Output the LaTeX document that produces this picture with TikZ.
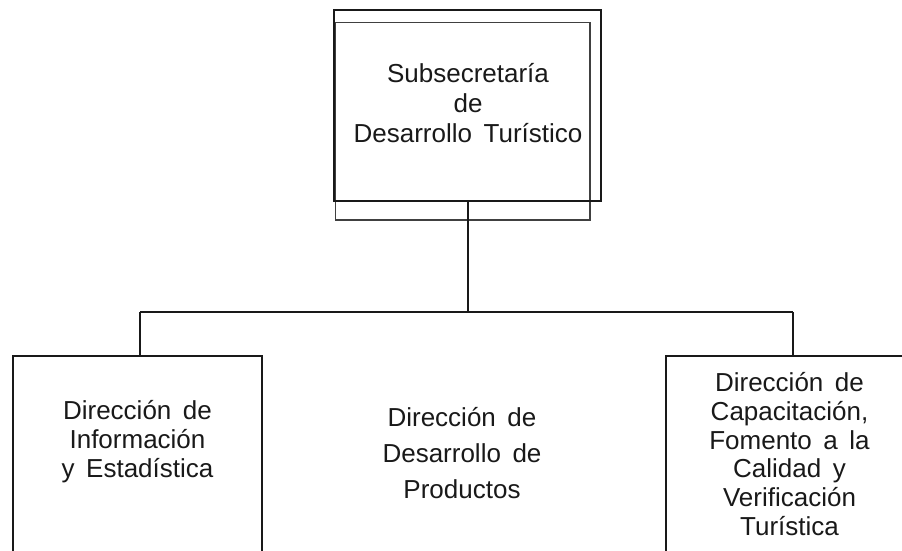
\documentclass[tikz,border=0pt]{standalone}
\usepackage{fontspec}
\setmainfont[WordSpace=1.6]{Liberation Sans}
\begin{document}
\begin{tikzpicture}[x=1pt,y=-1pt,
  conn/.style={line width=2pt, black!90},
  boxx/.style={draw=black!90, line width=2pt, rectangle, inner sep=0pt},
  shadowbox/.style={draw=black!75, line width=1.5pt, rectangle, inner sep=0pt},
  lbl/.style={align=center, inner sep=0pt, text=black!90}]
\useasboundingbox (0,0) rectangle (902,550);
% top unit
\node[shadowbox, minimum width=254.5pt, minimum height=197.3pt] (subsh) at (462.75,121.35) {};
\node[boxx, minimum width=267pt, minimum height=191pt] (sub) at (467.5,105.5) {};
\node[lbl, font=\fontsize{26}{30}\selectfont] (subt) at (468,103) {Subsecretaría\\de\\Desarrollo Turístico};
% lower boxes
\node[boxx, minimum width=249pt, minimum height=230pt] (info) at (137.5,471) {};
\node[boxx, minimum width=270pt, minimum height=230pt] (cap) at (801,471) {};
\node[lbl, font=\fontsize{26}{29}\selectfont] (infot) at (137.5,442) {Dirección de\\Información\\y Estadística};
\node[lbl, font=\fontsize{26}{28.7}\selectfont] (capt) at (789.5,454) {Dirección de\\Capacitación,\\Fomento a la\\Calidad y\\Verificación\\Turística};
\node[lbl, font=\fontsize{26}{36}\selectfont] (prodt) at (462,453) {Dirección de\\Desarrollo de\\Productos};
% connectors
\coordinate (busL) at (140,312);
\coordinate (busR) at (793,312);
\coordinate (busM) at (sub.south |- busL);
\draw[conn] (sub.south) -- (busM);
\draw[conn] (busL) -- (busR);
\draw[conn] (busL) -- (busL |- info.north);
\draw[conn] (busR) -- (busR |- cap.north);
\end{tikzpicture}
\end{document}
